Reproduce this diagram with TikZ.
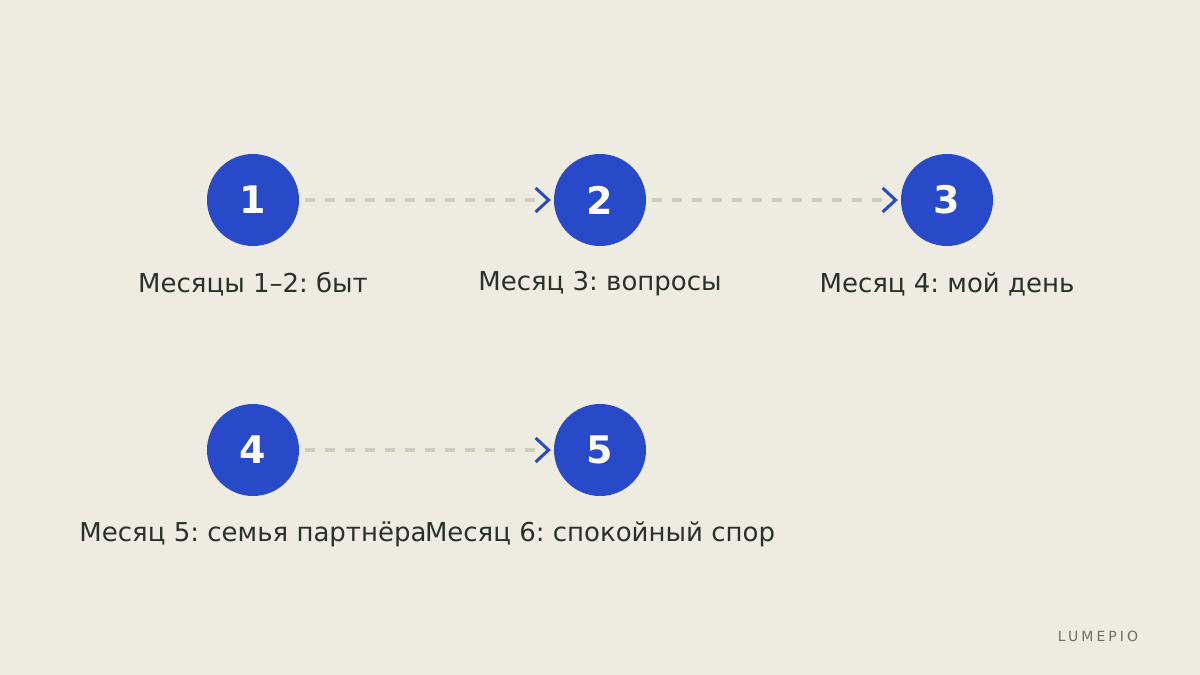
\documentclass[tikz,border=0pt]{standalone}
\usepackage{fontspec}
\setmainfont{DejaVu Sans}
\newfontfamily\brandfont[LetterSpace=22]{DejaVu Sans}
\usetikzlibrary{arrows.meta}
\frenchspacing
\definecolor{bgpaper}{HTML}{EEEBE0}
\definecolor{stepblue}{HTML}{2849C8}
\definecolor{dashgray}{HTML}{D0CCBC}
\definecolor{labelink}{HTML}{2A3128}
\definecolor{brandgray}{HTML}{6B6F66}
\tikzstyle{stepdot} = [circle, fill=stepblue, minimum size=92pt, inner sep=0pt, text=white, font=\fontsize{38}{40}\selectfont\bfseries]
\tikzstyle{steplabel} = [text=labelink, font=\fontsize{26}{30}\selectfont, inner sep=0pt]
\tikzstyle{arrow} = [line width=4pt, dashgray, dash pattern=on 10pt off 10pt, shorten <=6pt, shorten >=3pt, -{Straight Barb[stepblue, length=13pt, width=24pt, line width=3pt]}]

\begin{document}
\begin{tikzpicture}[x=1pt, y=-1pt]
        \fill [bgpaper] (0,0) rectangle (1200,675);
        \useasboundingbox (0,0) rectangle (1200,675);

        %first row
        \node at (253,200) [stepdot] (s1) {1};
        \node at (600,200) [stepdot] (s2) {2};
        \node at (947,200) [stepdot] (s3) {3};
        \node at (253,284) [steplabel] (l1) {Месяцы 1–2: быт};
        \node at (600,284) [steplabel] (l2) {Месяц 3: вопросы};
        \node at (947,284) [steplabel] (l3) {Месяц 4: мой день};

        \draw [arrow] (s1) -- (s2);
        \draw [arrow] (s2) -- (s3);

        %second row
        \node at (253,450) [stepdot] (s4) {4};
        \node at (600,450) [stepdot] (s5) {5};
        \node at (253,534) [steplabel] (l4) {Месяц 5: семья партнёра};
        \node at (600,534) [steplabel] (l5) {Месяц 6: спокойный спор};

        \draw [arrow] (s4) -- (s5);

        %brand
        \node at (1098,636) [text=brandgray, font=\brandfont\fontsize{14}{16}\selectfont] (brand) {LUMEPIO};
\end{tikzpicture}
\end{document}
